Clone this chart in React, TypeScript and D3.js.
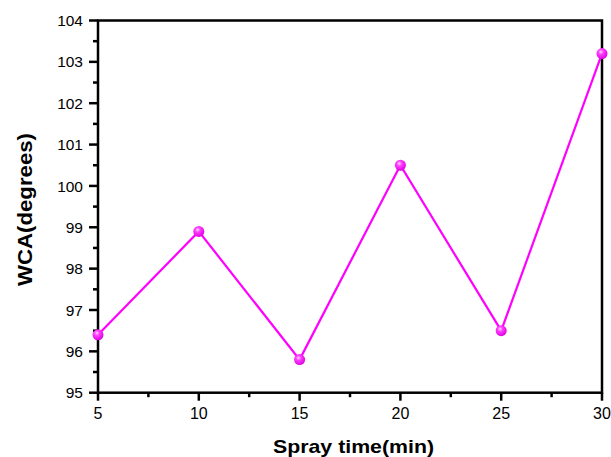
import React from "react";
import * as d3 from "d3";

const sprayTimes = [5, 10, 15, 20, 25, 30];
const wcaValues = [96.4, 98.9, 95.8, 100.5, 96.5, 103.2];
const xTicks = [5, 10, 15, 20, 25, 30];
const xMinorTicks = [7.5, 12.5, 17.5, 22.5, 27.5];
const yTicks = [95, 96, 97, 98, 99, 100, 101, 102, 103, 104];
const yMinorTicks = [95.5, 96.5, 97.5, 98.5, 99.5, 100.5, 101.5, 102.5, 103.5];

export default function App() {
  const W = 611, H = 457;
  const left = 98, right = 602, top = 20.5, bottom = 392.7;
  const x = d3.scaleLinear().domain([5, 30]).range([left, right]);
  const y = d3.scaleLinear().domain([95, 104]).range([bottom, top]);
  const pts = sprayTimes.map((t, i) => [t, wcaValues[i]] as [number, number]);
  const line = d3.line<[number, number]>().x(d => x(d[0])).y(d => y(d[1]));
  const font = "Arial, 'Liberation Sans', sans-serif";
  const sw = 2.5;
  return (
    <svg width={W} height={H} style={{ position: "absolute", left: 0, top: 0, background: "#fff" }}>
      <defs>
        <radialGradient id="ball" cx="0.4" cy="0.35" r="0.65">
          <stop offset="0" stopColor="#ffd9ff" />
          <stop offset="0.35" stopColor="#ff40ff" />
          <stop offset="1" stopColor="#e000e0" />
        </radialGradient>
      </defs>
      <rect x={left} y={top} width={right - left} height={bottom - top} fill="none" stroke="#000" strokeWidth={sw} />
      {yTicks.map(v => (
        <g key={"y" + v}>
          <line x1={left - 9} x2={left} y1={y(v)} y2={y(v)} stroke="#000" strokeWidth={sw} />
          <text x={83} y={y(v)} dy="0.36em" textAnchor="end" fontFamily={font} fontSize={15.5} fill="#000">{v}</text>
        </g>
      ))}
      {yMinorTicks.map(v => (
        <line key={"ym" + v} x1={left - 5} x2={left} y1={y(v)} y2={y(v)} stroke="#000" strokeWidth={sw} />
      ))}
      {xTicks.map(v => (
        <g key={"x" + v}>
          <line x1={x(v)} x2={x(v)} y1={bottom} y2={bottom + 8} stroke="#000" strokeWidth={sw} />
          <text x={x(v)} y={418.5} textAnchor="middle" fontFamily={font} fontSize={16} fill="#000">{v}</text>
        </g>
      ))}
      {xMinorTicks.map(v => (
        <line key={"xm" + v} x1={x(v)} x2={x(v)} y1={bottom} y2={bottom + 4.5} stroke="#000" strokeWidth={sw} />
      ))}
      <path d={line(pts) || ""} fill="none" stroke="#ff00ff" strokeWidth={2.2} />
      {pts.map((p, i) => (
        <circle key={i} cx={x(p[0])} cy={y(p[1])} r={5.5} fill="url(#ball)" />
      ))}
      <text x={353.5} y={452.5} textAnchor="middle" fontFamily={font} fontSize={19} fontWeight="bold" fill="#000" textLength={161} lengthAdjust="spacingAndGlyphs">Spray time(min)</text>
      <text transform={`translate(32,209.5) rotate(-90)`} textAnchor="middle" fontFamily={font} fontSize={20} fontWeight="bold" fill="#000" textLength={153} lengthAdjust="spacingAndGlyphs">WCA(degrees)</text>
    </svg>
  );
}
